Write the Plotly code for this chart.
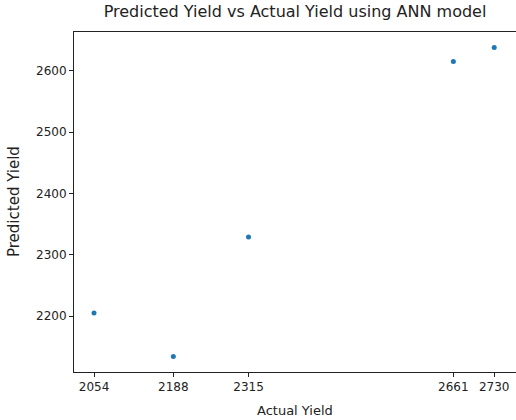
import plotly.graph_objects as go

actual_yield = [2054, 2188, 2315, 2661, 2730]
predicted_yield = [2205, 2134, 2329, 2615, 2638]
x_ticks = [2054, 2188, 2315, 2661, 2730]
y_ticks = [2200, 2300, 2400, 2500, 2600]

xpad = (max(actual_yield) - min(actual_yield)) * 0.05
ypad = (max(predicted_yield) - min(predicted_yield)) * 0.05

fig = go.Figure()
fig.add_trace(go.Scatter(
    x=actual_yield, y=predicted_yield, mode="markers",
    marker=dict(color="#1f77b4", size=5, line=dict(width=0)),
    showlegend=False,
))

font = "DejaVu Sans, sans-serif"
axis_common = dict(
    showgrid=False, zeroline=False, showline=True, linecolor="#222",
    linewidth=1, ticks="outside", ticklen=4, tickcolor="#222",
    tickfont=dict(family=font, size=12, color="#222"),
)
fig.update_layout(
    width=516, height=420,
    margin=dict(l=74, r=0, t=32, b=48),
    paper_bgcolor="white", plot_bgcolor="white",
    xaxis=dict(range=[min(actual_yield) - xpad, max(actual_yield) + xpad + 3],
               tickvals=x_ticks, ticktext=[str(v) for v in x_ticks], mirror=True,
               **axis_common),
    yaxis=dict(range=[min(predicted_yield) - ypad, max(predicted_yield) + ypad],
               tickvals=y_ticks, ticktext=[str(v) for v in y_ticks], mirror=False,
               **axis_common),
    title=dict(text="Predicted Yield vs Actual Yield using ANN model",
               x=0.5, xref="paper", y=1, yref="container", yanchor="top", pad=dict(t=6),
               font=dict(family=font, size=16, color="#222")),
    annotations=[
        dict(text="Actual Yield", xref="paper", yref="paper", x=0.5, y=0,
             xanchor="center", yanchor="top", yshift=-29, showarrow=False,
             font=dict(family=font, size=13, color="#222")),
        dict(text="Predicted Yield", xref="paper", yref="paper", x=0, y=0.5,
             xanchor="right", yanchor="middle", xshift=-49, textangle=-90, showarrow=False,
             font=dict(family=font, size=15, color="#222")),
    ],
)
fig.write_html("out.html", config={"displayModeBar": False},
               post_script="document.body.style.margin='0';")
